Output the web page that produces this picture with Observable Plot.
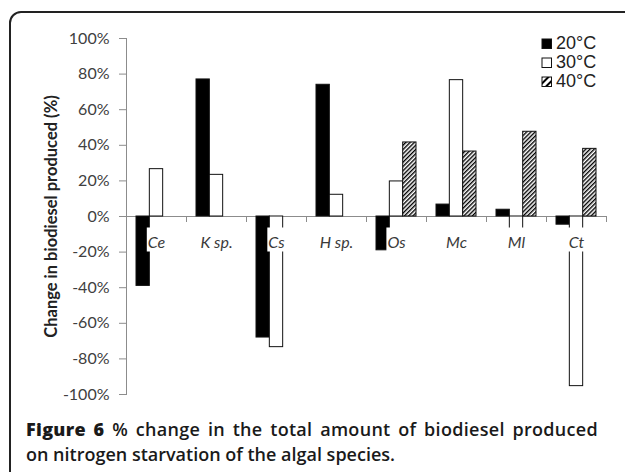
<!DOCTYPE html>
<html>
<head>
<meta charset="utf-8">
<script src="https://cdn.jsdelivr.net/npm/d3@7"></script>
<script src="https://cdn.jsdelivr.net/npm/@observablehq/plot@0.6"></script>
<style>
  html, body { margin: 0; padding: 0; background: #fff; }
  body { width: 625px; height: 472px; overflow: hidden; position: relative; }
  #frame { position: absolute; left: 9px; top: 11px; width: 680px; height: 540px;
           border: 2px solid #222; border-radius: 12px; box-sizing: border-box; }
  #chart { position: absolute; left: 0; top: 0; }
  #chart svg { font-family: Lato, "Open Sans", sans-serif; }
  #chart g[aria-label="y-axis tick label"] text { fill: #404040; }
  #chart g[aria-label="y-axis label"] text { font-weight: bold; fill: #222; font-size: 16.5px; }
  #legend { position: absolute; left: 541px; top: 34px; font-family: "Liberation Sans", Arial, sans-serif;
            font-size: 18px; color: #222; }
  #legend .row { height: 19px; display: flex; align-items: center; line-height: 19px; }
  #legend svg { margin-right: 3px; flex: none; }
  #caption { position: absolute; left: 26px; top: 417px; width: 572px; font-family: "Open Sans", sans-serif;
             font-size: 18px; line-height: 25px; font-weight: 600; color: #1a1a1a; }
  #caption .l1 { text-align: justify; text-align-last: justify; white-space: nowrap; letter-spacing: 0.3px; }
  #caption .l2 { white-space: nowrap; }
  #caption b { font-weight: 800; }
</style>
</head>
<body>
<div id="frame"></div>
<div id="chart"></div>
<div id="legend"></div>
<div id="caption"><div class="l1"><b>Figure 6</b> % change in the total amount of biodiesel produced</div><div class="l2">on nitrogen starvation of the algal species.</div></div>
<script>
const categories = ["Ce", "K sp.", "Cs", "H sp.", "Os", "Mc", "Ml", "Ct"];
const series = ["20°C", "30°C", "40°C"];
const values20 = [-39, 77, -68, 74, -19, 6.7, 3.8, -4.6];
const values30 = [26.6, 23.4, -73.4, 12.2, 19.7, 76.6, -9, -95.3];
const values40 = [null, null, null, null, 41.6, 36.5, 47.6, 38];
const yTicks = [-100, -80, -60, -40, -20, 0, 20, 40, 60, 80, 100];

const seriesValues = [values20, values30, values40];
const rows = series.flatMap((s, si) =>
  categories.map((c, ci) => ({cat: c, series: s, value: seriesValues[si][ci]})).filter(d => d.value != null));

const fills = {"20°C": "#000", "30°C": "#fff", "40°C": "url(#hatch)"};

const W = 625, H = 412, mL = 126, mR = 19;
const band = (W - mL - mR) / categories.length;   // 60
const groupPad = band / 6;                          // outer padding of the bar group
const barW = (band - 2 * groupPad) / series.length;

const barMarks = series.map((s, i) => Plot.barY(rows.filter(d => d.series === s), {
  x: "cat", y: "value",
  fill: fills[s], stroke: "#111", strokeWidth: 1,
  insetLeft: groupPad + i * barW,
  insetRight: band - groupPad - (i + 1) * barW
}));

const chart = Plot.plot({
  width: W, height: H,
  marginLeft: mL, marginRight: mR, marginTop: 38, marginBottom: 18,
  x: {type: "band", domain: categories, padding: 0, axis: null},
  y: {domain: [-100, 100], axis: null},
  style: {fontSize: "16px", background: "transparent", overflow: "visible"},
  marks: [
    Plot.frame({anchor: "left", stroke: "#8c8c8c"}),
    Plot.axisY({ticks: yTicks, tickSize: 7, tickPadding: 10, stroke: "#8c8c8c",
      tickFormat: d => `${d}%`, fontSize: 16,
      label: "Change in biodiesel produced (%)", labelAnchor: "center", labelArrow: "none", labelOffset: 81}),
    Plot.ruleY([0], {stroke: "#8c8c8c"}),
    Plot.ruleX(categories, {x: d => d, y1: 0, y2: 0, dx: -band / 2, insetBottom: -6, stroke: "#8c8c8c"}),
    Plot.ruleX(categories.slice(-1), {x: d => d, y1: 0, y2: 0, dx: band / 2, insetBottom: -6, stroke: "#8c8c8c"}),
    ...barMarks,
    Plot.text(categories, {x: d => d, y: 0, text: d => d, lineAnchor: "bottom", dy: 31,
      fontStyle: "italic", fontSize: 16, fill: "#3a3a3a", className: "catlab"})
  ]
});

document.getElementById("chart").appendChild(chart);

// hatch pattern for the 40°C bars
const svg = d3.select(chart);
const defs = svg.insert("defs", ":first-child");
const pat = defs.append("pattern").attr("id", "hatch").attr("patternUnits", "userSpaceOnUse")
  .attr("width", 3).attr("height", 3).attr("patternTransform", "rotate(45)");
pat.append("rect").attr("width", 3).attr("height", 3).attr("fill", "#fff");
pat.append("line").attr("x1", 0.7).attr("y1", 0).attr("x2", 0.7).attr("y2", 3)
  .attr("stroke", "#000").attr("stroke-width", 1.4);

// white boxes behind category labels (like Excel labels)
svg.selectAll(".catlab text").each(function() {
  const b = this.getBBox();
  const t = this.getAttribute("transform");
  d3.select(this.parentNode).insert("rect", () => this)
    .attr("transform", t)
    .attr("x", b.x - 1).attr("y", b.y - 4).attr("width", b.width + 2).attr("height", b.height + 5)
    .attr("fill", "#fff");
});

// legend
const legend = d3.select("#legend");
series.forEach(s => {
  const row = legend.append("div").attr("class", "row");
  const sw = row.append("svg").attr("width", 12).attr("height", 12);
  if (s === "40°C") {
    const d = sw.append("defs").append("pattern").attr("id", "hatchL").attr("patternUnits", "userSpaceOnUse")
      .attr("width", 5).attr("height", 5).attr("patternTransform", "rotate(45)");
    d.append("rect").attr("width", 5).attr("height", 5).attr("fill", "#fff");
    d.append("line").attr("x1", 1).attr("y1", 0).attr("x2", 1).attr("y2", 5).attr("stroke", "#000").attr("stroke-width", 2);
  }
  sw.append("rect").attr("x", 1).attr("y", 1).attr("width", 9.5).attr("height", 9.5)
    .attr("fill", s === "40°C" ? "url(#hatchL)" : fills[s]).attr("stroke", "#111").attr("stroke-width", 1);
  row.append("span").text(s);
});
</script>
</body>
</html>
